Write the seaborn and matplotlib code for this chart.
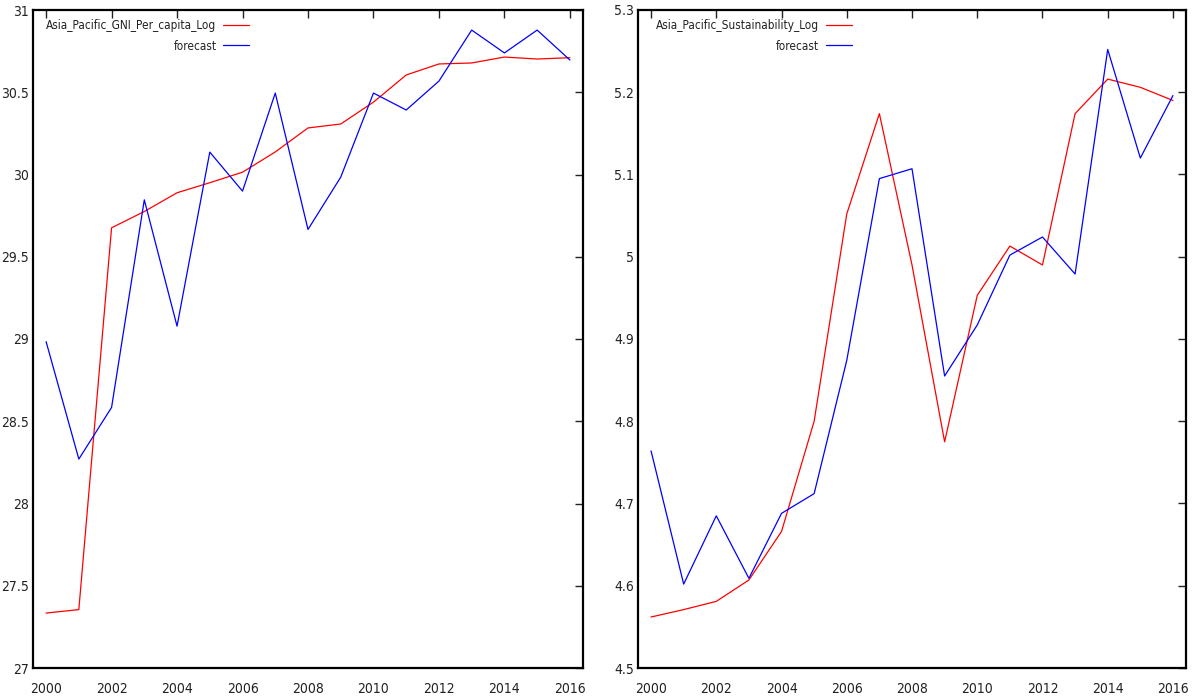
import matplotlib
matplotlib.use("Agg")
import matplotlib.pyplot as plt
import matplotlib.ticker as mticker
import numpy as np
import pandas as pd
import seaborn as sns

years = list(range(2000, 2017))

gni_actual = [27.334, 27.355, 29.676, 29.775, 29.889, 29.950, 30.014, 30.137,
              30.283, 30.307, 30.440, 30.605, 30.672, 30.678, 30.714, 30.702, 30.710]
gni_forecast = [28.984, 28.270, 28.584, 29.846, 29.078, 30.136, 29.899, 30.495,
                29.666, 29.984, 30.495, 30.392, 30.568, 30.878, 30.739, 30.878, 30.696]

sus_actual = [4.562, 4.571, 4.581, 4.607, 4.666, 4.800, 5.052, 5.174,
              4.990, 4.775, 4.953, 5.013, 4.990, 5.174, 5.216, 5.206, 5.190]
sus_forecast = [4.764, 4.602, 4.685, 4.609, 4.688, 4.712, 4.874, 5.095,
                5.107, 4.855, 4.917, 5.002, 5.024, 4.979, 5.252, 5.120, 5.196]

gni_label = "Asia_Pacific_GNI_Per_capita_Log"
sus_label = "Asia_Pacific_Sustainability_Log"
forecast_label = "forecast"

sns.set_style("white")
plt.rcParams["font.family"] = ["DejaVu Sans"]
plt.rcParams["font.stretch"] = "condensed"

fig = plt.figure(figsize=(11.93, 7.0), dpi=100)
W, H = 1193.0, 700.0
ax1 = fig.add_axes([33 / W, 32 / H, (583 - 33) / W, 658 / H])
ax2 = fig.add_axes([638 / W, 32 / H, (1186 - 638) / W, 658 / H])


def draw_panel(ax, actual, forecast, label, ylim, ystep, key_right):
    df = pd.DataFrame({"year": years, "actual": actual, "forecast": forecast})
    sns.lineplot(data=df, x="year", y="actual", ax=ax, color="#ff0000",
                 linewidth=0.9, label=label)
    sns.lineplot(data=df, x="year", y="forecast", ax=ax, color="#0000ff",
                 linewidth=0.9, label=forecast_label)
    ax.set_xlim(1999.6, 2016.4)
    ax.set_ylim(*ylim)
    ax.set_xlabel("")
    ax.set_ylabel("")
    ax.xaxis.set_major_locator(mticker.MultipleLocator(2))
    ax.yaxis.set_major_locator(mticker.MultipleLocator(ystep))
    ax.yaxis.set_major_formatter(mticker.FuncFormatter(lambda v, p: f"{round(v, 6):g}"))
    ax.tick_params(axis="both", direction="in", length=6, width=1,
                   top=True, right=True, labelsize=10, colors="#222222",
                   labelcolor="#222222")
    ax.tick_params(axis="x", pad=10)
    ax.tick_params(axis="y", pad=3)
    for s in ax.spines.values():
        s.set_visible(True)
        s.set_color("black")
        s.set_linewidth(1.6)
    leg = ax.legend(loc="upper right", bbox_to_anchor=(key_right, 0.99),
                    frameon=False, markerfirst=False, fontsize=8.5,
                    handlelength=2.2, handletextpad=0.55, labelspacing=0.65,
                    borderaxespad=0.0, borderpad=0.2)
    for t in leg.get_texts():
        t.set_color("#222222")


draw_panel(ax1, gni_actual, gni_forecast, gni_label, (27, 31), 0.5, 0.397)
draw_panel(ax2, sus_actual, sus_forecast, sus_label, (4.5, 5.3), 0.1, 0.394)

fig.savefig("out.png", dpi=100, facecolor="white")
